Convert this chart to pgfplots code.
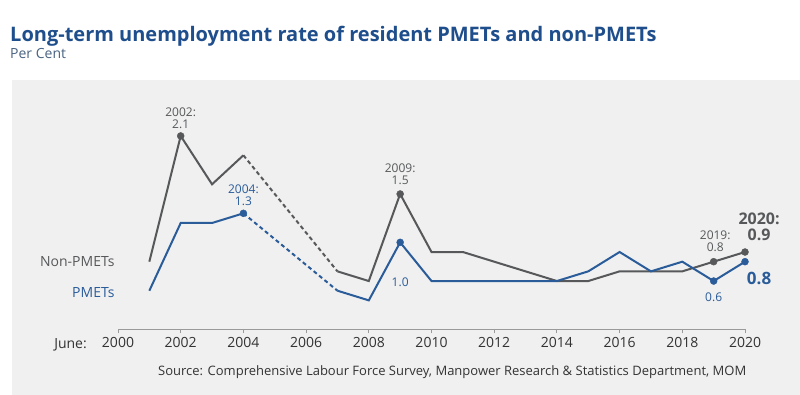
\documentclass[border=0pt]{standalone}
\usepackage{pgfplots}
\pgfplotsset{compat=1.18}
\usepackage{fontspec}
\setmainfont{Open Sans}
\definecolor{pblue}{HTML}{2A5C9A}
\definecolor{pgray}{HTML}{56585A}
\definecolor{tblue}{HTML}{1F4E8C}
\definecolor{subc}{HTML}{4A6382}
\definecolor{panel}{HTML}{F0F0F0}
\definecolor{axc}{HTML}{9A9A9A}
\definecolor{txt}{HTML}{333333}
\begin{document}
\begin{tikzpicture}
\fill[white] (0,0) rectangle (800pt,395pt);
\fill[panel] (12pt,0) rectangle (800pt,315pt);
\node[anchor=base west, font=\fontsize{20}{22}\selectfont\bfseries, text=tblue, inner sep=0] at (10pt,353pt) {Long-term unemployment rate of resident PMETs and non-PMETs};
\node[anchor=base west, font=\fontsize{14}{16}\selectfont, text=subc, inner sep=0] at (10pt,336pt) {Per Cent};
\node[anchor=east, font=\fontsize{14}{16}\selectfont, text=txt, inner sep=0] at (87pt,50pt) {June:};
\node[anchor=west, font=\fontsize{13}{15}\selectfont, text=txt, inner sep=0] at (158pt,23pt) {Source: Comprehensive Labour Force Survey, Manpower Research \& Statistics Department, MOM};
\begin{axis}[
  at={(118pt,65.6pt)}, anchor=south west, scale only axis,
  width=627pt, height=212.8pt,
  xmin=2000, xmax=2020, ymin=0.1, ymax=2.3, clip=false,
  axis x line=bottom, axis y line=none,
  x axis line style={-, draw=axc, line width=1pt},
  xtick={2000,2002,...,2020}, tick align=outside, major tick length=4pt,
  tick style={axc, line width=1pt},
  xticklabel style={font=\fontsize{14}{16}\selectfont, text=txt},
  /pgf/number format/1000 sep={}, /pgf/number format/assume math mode=true,
]
\addplot[pgray, line width=2pt] coordinates {(2001,0.8)(2002,2.1)(2003,1.6)(2004,1.9)};
\addplot[pgray, line width=2pt, dash pattern=on 4pt off 3pt] coordinates {(2004,1.9)(2007,0.7)};
\addplot[pgray, line width=2pt] coordinates {(2007,0.7)(2008,0.6)(2009,1.5)(2010,0.9)(2011,0.9)(2012,0.8)(2013,0.7)(2014,0.6)(2015,0.6)(2016,0.7)(2017,0.7)(2018,0.7)(2019,0.8)(2020,0.9)};
\addplot[only marks, mark=*, mark size=3.5pt, pgray] coordinates {(2002,2.1)(2009,1.5)(2019,0.8)(2020,0.9)};
\addplot[pblue, line width=2pt] coordinates {(2001,0.5)(2002,1.2)(2003,1.2)(2004,1.3)};
\addplot[pblue, line width=2pt, dash pattern=on 4pt off 3pt] coordinates {(2004,1.3)(2007,0.5)};
\addplot[pblue, line width=2pt] coordinates {(2007,0.5)(2008,0.4)(2009,1.0)(2010,0.6)(2011,0.6)(2012,0.6)(2013,0.6)(2014,0.6)(2015,0.7)(2016,0.9)(2017,0.7)(2018,0.8)(2019,0.6)(2020,0.8)};
\addplot[only marks, mark=*, mark size=3.5pt, pblue] coordinates {(2004,1.3)(2009,1.0)(2019,0.6)(2020,0.8)};
\node[font=\fontsize{12}{12}\selectfont, text=pgray, align=center] at (axis cs:2002,2.286) {2002:\\2.1};
\node[font=\fontsize{12}{12}\selectfont, text=pblue, align=center] at (axis cs:2004,1.49) {2004:\\1.3};
\node[font=\fontsize{12}{12}\selectfont, text=pgray, align=center] at (axis cs:2009,1.70) {2009:\\1.5};
\node[font=\fontsize{12}{12}\selectfont, text=pblue] at (axis cs:2009,0.59) {1.0};
\node[font=\fontsize{12}{12}\selectfont, text=pgray, align=center] at (axis cs:2019.05,1.01) {2019:\\0.8};
\node[font=\fontsize{12}{12}\selectfont, text=pblue] at (axis cs:2019,0.435) {0.6};
\node[font=\fontsize{16}{16}\selectfont\bfseries, text=pgray, inner sep=0] at (axis cs:2020.45,1.245) {2020:};
\node[font=\fontsize{16}{16}\selectfont\bfseries, text=pgray, inner sep=0] at (axis cs:2020.45,1.08) {0.9};
\node[font=\fontsize{17}{15}\selectfont\bfseries, text=pblue] at (axis cs:2020.45,0.63) {0.8};
\node[font=\fontsize{14}{16}\selectfont, text=pgray, anchor=east, inner sep=0] at (axis cs:1999.9,0.797) {Non-PMETs};
\node[font=\fontsize{14}{16}\selectfont, text=pblue, anchor=east, inner sep=0] at (axis cs:1999.9,0.479) {PMETs};
\end{axis}
\end{tikzpicture}
\end{document}
